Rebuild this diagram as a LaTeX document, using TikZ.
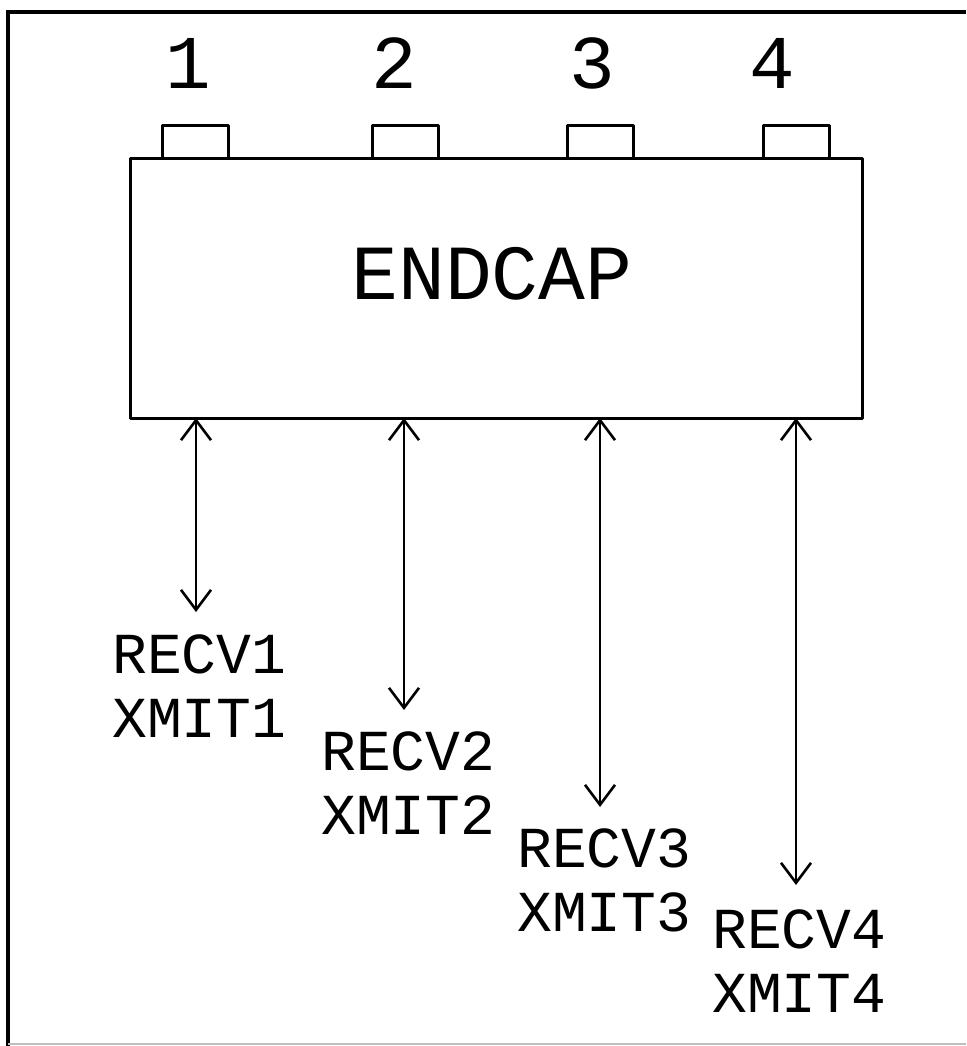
\documentclass[tikz,border=0pt]{standalone}
\usepackage{fontspec}
\setmonofont{Liberation Mono}
\usetikzlibrary{arrows.meta}
\tikzset{
  ln/.style={line width=3pt, line cap=round, line join=round},
  tabbox/.style={ln, draw},
  lbl/.style={inner sep=0pt, anchor=base west, align=left,
    font=\ttfamily\fontsize{58}{64}\selectfont},
  num/.style={inner sep=0pt, anchor=base, font=\ttfamily\fontsize{76}{80}\selectfont},
  link/.style={line width=2.6pt, {Straight Barb[length=20pt,width=30pt,line width=2.6pt]}-{Straight Barb[length=20pt,width=30pt,line width=2.6pt]}}
}
\begin{document}
\begin{tikzpicture}[x=1pt,y=-1pt]
\useasboundingbox (0,0) rectangle (966,1046);
% frame
\draw[line width=3.5pt] (8,1046) -- (8,12) -- (966,12);
\draw[line width=2pt, black!25] (8,1044) -- (966,1044);
% tabs
\draw[tabbox] (162,158) rectangle (228,126);
\draw[tabbox] (372,158) rectangle (438,126);
\draw[tabbox] (567,158) rectangle (633,126);
\draw[tabbox] (763,158) rectangle (829,126);
% main box
\node[ln, draw, minimum width=732pt, minimum height=260pt, inner sep=0pt] (box) at (496,288) {};
\node[inner sep=0pt, anchor=base, font=\ttfamily\fontsize{78}{80}\selectfont] (title) at (492,299) {ENDCAP};
% numbers
\node[num] (n1) at (188,89) {1};
\node[num] (n2) at (394,89) {2};
\node[num] (n3) at (592,89) {3};
\node[num] (n4) at (772,89) {4};
% connector endpoints
\coordinate (t1) at (196,418);
\coordinate (t2) at (404,418);
\coordinate (t3) at (600,418);
\coordinate (t4) at (796,418);
\coordinate (e1) at (196,612);
\coordinate (e2) at (404,710);
\coordinate (e3) at (600,807);
\coordinate (e4) at (796,885);
\draw[link] (t1) -- (e1);
\draw[link] (t2) -- (e2);
\draw[link] (t3) -- (e3);
\draw[link] (t4) -- (e4);
% labels (base = baseline of the last line)
\node[lbl] (l1) at (112,737) {RECV1\\XMIT1};
\node[lbl] (l2) at (321,834) {RECV2\\XMIT2};
\node[lbl] (l3) at (517,931) {RECV3\\XMIT3};
\node[lbl] (l4) at (712,1012) {RECV4\\XMIT4};
\end{tikzpicture}
\end{document}
